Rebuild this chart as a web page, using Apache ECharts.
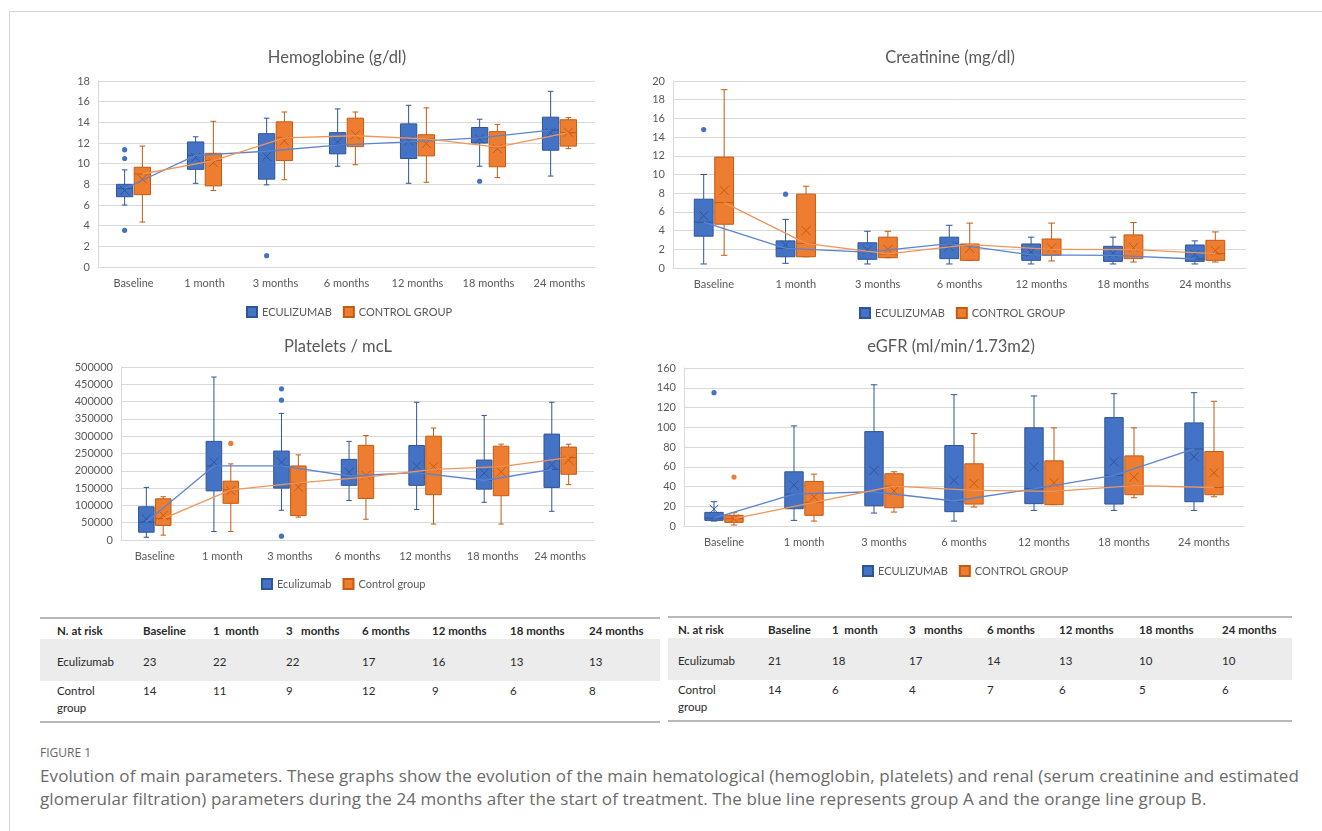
<!DOCTYPE html>
<html>
<head>
<meta charset="utf-8">
<script src="https://cdn.jsdelivr.net/npm/echarts@6/dist/echarts.min.js"></script>
<style>
body { margin: 0; background: #fff; font-family: Lato, sans-serif; }
#page { position: relative; width: 1322px; height: 831px; overflow: hidden; }
#frame { position: absolute; left: 9px; top: 11px; width: 1400px; height: 900px; border: 1px solid #d3d3d3; }
#charts { position: absolute; left: 0; top: 0; width: 1322px; height: 605px; }
.tbl { position: absolute; height: 102px; border-top: 2px solid #b8b8b8; border-bottom: 2px solid #b8b8b8; }
.band { position: absolute; left: 0; right: 0; background: #ececec; }
.cell { position: absolute; font-size: 11.5px; color: #2a2a2a; white-space: pre; line-height: 17px; }
.hd { font-weight: bold; }
#figlabel { position: absolute; left: 40px; top: 744px; font-family: "Open Sans", sans-serif; font-size: 12px; color: #666; }
#caption { position: absolute; left: 40px; top: 764px; font-family: "Open Sans", sans-serif; font-size: 17px; letter-spacing: 0.1px; line-height: 23px; color: #6a6a6a; white-space: nowrap; }
</style>
</head>
<body>
<div id="page">
  <div id="frame"></div>
  <div id="charts"></div>
  <div class="tbl" id="tblLeft" style="left:40px;top:617px;width:620px;"></div>
  <div class="tbl" id="tblRight" style="left:668px;top:616px;width:624px;"></div>
  <div id="figlabel">FIGURE 1</div>
  <div id="caption">Evolution of main parameters. These graphs show the evolution of the main hematological (hemoglobin, platelets) and renal (serum creatinine and estimated<br>glomerular filtration) parameters during the 24 months after the start of treatment. The blue line represents group A and the orange line group B.</div>
</div>
<script>
var months = ['Baseline', '1 month', '3 months', '6 months', '12 months', '18 months', '24 months'];

// boxes are [min, q1, median, q3, max]; outliers are [month index, value]
var hbEcuBox = [[6.0, 6.8, 7.6, 8.0, 9.4], [8.1, 9.45, 10.8, 12.1, 12.6], [7.95, 8.5, 11.2, 12.9, 14.4],
    [9.75, 10.95, 11.8, 13.0, 15.3], [8.1, 10.5, 12.1, 13.85, 15.65], [9.75, 12.0, 12.5, 13.5, 14.3], [8.8, 11.3, 13.25, 14.5, 17.0]];
var hbEcuMean = [7.4, 10.6, 10.7, 12.1, 12.2, 12.4, 13.0];
var hbEcuOut = [[0, 11.35], [0, 10.5], [0, 3.55], [2, 1.1], [5, 8.3]];
var hbCtrlBox = [[4.35, 7.0, 9.0, 9.65, 11.7], [7.4, 7.85, 10.3, 11.0, 14.1], [8.45, 10.3, 12.5, 14.05, 15.0],
    [9.9, 11.65, 12.7, 14.4, 15.0], [8.2, 10.75, 12.4, 12.8, 15.4], [8.65, 9.7, 11.6, 13.1, 13.8], [11.45, 11.7, 13.0, 14.25, 14.45]];
var hbCtrlMean = [8.5, 10.1, 12.2, 12.8, 11.95, 11.45, 13.05];
var hbCtrlOut = [];

var crEcuBox = [[0.43, 3.4, 4.9, 7.36, 10.0], [0.5, 1.2, 2.1, 2.9, 5.2], [0.43, 0.93, 1.7, 2.7, 3.93],
    [0.43, 1.0, 2.6, 3.3, 4.57], [0.43, 0.82, 1.4, 2.57, 3.3], [0.43, 0.71, 1.36, 2.32, 3.3], [0.43, 0.71, 0.96, 2.46, 2.9]];
var crEcuMean = [5.6, 2.46, 1.93, 2.3, 1.7, 1.57, 1.46];
var crEcuOut = [[0, 14.8], [1, 7.9]];
var crCtrlBox = [[1.36, 4.68, 7.0, 11.86, 19.07], [1.2, 1.2, 2.64, 7.9, 8.75], [1.1, 1.1, 1.5, 3.3, 3.93],
    [0.82, 0.82, 2.5, 2.57, 4.8], [0.75, 1.36, 2.0, 3.1, 4.8], [0.64, 1.0, 1.96, 3.54, 4.86], [0.64, 0.82, 1.54, 2.96, 3.86]];
var crCtrlMean = [8.3, 4.0, 2.0, 2.1, 2.14, 2.18, 1.86];
var crCtrlOut = [];

var plEcuBox = [[8000, 22500, 52000, 96000, 152000], [24500, 142000, 214000, 285000, 471000], [86000, 150000, 214000, 257000, 366000],
    [114000, 158000, 185000, 233000, 285000], [88000, 158000, 195000, 273000, 398000], [109000, 147000, 172000, 231000, 360000],
    [83000, 152000, 204000, 306000, 398000]];
var plEcuMean = [61000, 225000, 225000, 196000, 214000, 194000, 218000];
var plEcuOut = [[2, 437000], [2, 404000], [2, 11000]];
var plCtrlBox = [[14000, 42000, 62000, 119000, 125000], [24500, 106000, 145000, 170000, 220000], [66000, 70600, 165000, 214000, 246000],
    [60000, 120000, 182000, 273500, 302000], [46000, 131000, 204000, 300000, 323500], [46000, 128000, 212000, 271000, 277000],
    [160000, 190000, 238000, 268600, 277000]];
var plCtrlMean = [71500, 143000, 153000, 187000, 212000, 197000, 231000];
var plCtrlOut = [[1, 279000]];

var gfEcuBox = [[5, 5.7, 8, 13.8, 24.6], [5.7, 17.5, 32.3, 54.9, 101.4], [13.1, 20.5, 34.7, 95.6, 143],
    [5, 14.5, 25.3, 81.5, 133], [15.8, 22.6, 37.7, 99.4, 131.7], [15.8, 22.2, 51.2, 109.8, 134], [15.8, 24.6, 78, 104.4, 135]];
var gfEcuMean = [17, 41.4, 56.2, 46.1, 60, 65, 70];
var gfEcuOut = [[0, 135]];
var gfCtrlBox = [[1, 3.7, 7.4, 10.8, 13.5], [5, 10.8, 24, 45.1, 52.5], [14.1, 18.5, 40.4, 52.9, 54.9],
    [19.2, 22.2, 36, 63, 93.6], [21.6, 21.6, 35, 66, 99.4], [28.6, 31.7, 40.8, 71, 99.4], [29.6, 31.7, 39, 75.4, 126.3]];
var gfCtrlMean = [7.4, 29.6, 35.4, 43.1, 43.8, 49.5, 53.9];
var gfCtrlOut = [[0, 49.5]];

var riskCols = ['N. at risk', 'Baseline', '1  month', '3   months', '6 months', '12 months', '18 months', '24 months'];
var riskLeftEcu = [23, 22, 22, 17, 16, 13, 13];
var riskLeftCtrl = [14, 11, 9, 12, 9, 6, 8];
var riskRightEcu = [21, 18, 17, 14, 13, 10, 10];
var riskRightCtrl = [14, 6, 4, 7, 6, 5, 6];

var blue = {fill: '#4472C4', edge: '#2F5597', line: '#5B84D0'};
var orange = {fill: '#ED7D31', edge: '#C55A11', line: '#F0955A'};

var panels = [
    {title: 'Hemoglobine (g/dl)', tx: 337, ty: 58, grid: {left: 98, top: 81, width: 497, height: 186}, max: 18, step: 2,
        legend: {left: 246, top: 306}, names: ['ECULIZUMAB', 'CONTROL GROUP'],
        ecu: [hbEcuBox, hbEcuMean, hbEcuOut], ctrl: [hbCtrlBox, hbCtrlMean, hbCtrlOut]},
    {title: 'Creatinine (mg/dl)', tx: 950, ty: 58, grid: {left: 673, top: 81, width: 573, height: 187}, max: 20, step: 2,
        legend: {left: 859, top: 307}, names: ['ECULIZUMAB', 'CONTROL GROUP'],
        ecu: [crEcuBox, crEcuMean, crEcuOut], ctrl: [crCtrlBox, crCtrlMean, crCtrlOut]},
    {title: 'Platelets / mcL', tx: 338, ty: 347, grid: {left: 121, top: 367, width: 473, height: 173}, max: 500000, step: 50000,
        legend: {left: 261, top: 578}, names: ['Eculizumab', 'Control group'],
        ecu: [plEcuBox, plEcuMean, plEcuOut], ctrl: [plCtrlBox, plCtrlMean, plCtrlOut]},
    {title: 'eGFR (ml/min/1.73m2)', tx: 951, ty: 347, grid: {left: 684, top: 368, width: 560, height: 158}, max: 160, step: 20,
        legend: {left: 862, top: 565}, names: ['ECULIZUMAB', 'CONTROL GROUP'],
        ecu: [gfEcuBox, gfEcuMean, gfEcuOut], ctrl: [gfCtrlBox, gfCtrlMean, gfCtrlOut]}
];

function ln(x1, y1, x2, y2, col, w) {
    return {type: 'line', shape: {x1: x1, y1: y1, x2: x2, y2: y2}, style: {stroke: col, lineWidth: w || 1}};
}

function boxRender(side, c) {
    return function (params, api) {
        var i = api.value(0);
        var band = api.size([1, 0])[0];
        var w = band * 0.23;
        var cap = band * 0.08;
        var cx = api.coord([i, 0])[0] + side * band * 0.125;
        var py = function (d) { return api.coord([i, api.value(d)])[1]; };
        var yMin = py(1), yQ1 = py(2), yMed = py(3), yQ3 = py(4), yMax = py(5), yMean = py(6);
        return {type: 'group', children: [
            ln(cx, yMax, cx, yQ3, c.edge),
            ln(cx, yQ1, cx, yMin, c.edge),
            ln(cx - cap / 2, yMax, cx + cap / 2, yMax, c.edge),
            ln(cx - cap / 2, yMin, cx + cap / 2, yMin, c.edge),
            {type: 'rect', shape: {x: cx - w / 2, y: yQ3, width: w, height: yQ1 - yQ3},
                style: {fill: c.fill, stroke: c.edge, lineWidth: 1}},
            ln(cx - w / 2, yMed, cx + w / 2, yMed, c.edge),
            ln(cx - 4.5, yMean - 4.5, cx + 4.5, yMean + 4.5, c.edge),
            ln(cx - 4.5, yMean + 4.5, cx + 4.5, yMean - 4.5, c.edge)
        ]};
    };
}

function segRender(side, c) {
    return function (params, api) {
        var i = api.value(0);
        var band = api.size([1, 0])[0];
        var dx = side * band * 0.125;
        var p0 = api.coord([i, api.value(1)]);
        var p1 = api.coord([i + 1, api.value(2)]);
        return ln(p0[0] + dx, p0[1], p1[0] + dx, p1[1], c.line, 1.3);
    };
}

function dotRender(side, c) {
    return function (params, api) {
        var band = api.size([1, 0])[0];
        var p = api.coord([api.value(0), api.value(1)]);
        return {type: 'circle', shape: {cx: p[0] + side * band * 0.125, cy: p[1], r: 2.6}, style: {fill: c.fill}};
    };
}

var option = {
    animation: false,
    textStyle: {fontFamily: 'Lato'},
    grid: [], xAxis: [], yAxis: [], legend: [], series: [], graphic: []
};

panels.forEach(function (p, k) {
    option.grid.push(p.grid);
    option.xAxis.push({
        type: 'category', gridIndex: k, data: months,
        axisTick: {show: false},
        axisLine: {lineStyle: {color: '#d9d9d9'}},
        axisLabel: {color: '#595959', fontSize: 11, margin: 11}
    });
    option.yAxis.push({
        type: 'value', gridIndex: k, min: 0, max: p.max, interval: p.step,
        axisLine: {show: true, lineStyle: {color: '#d9d9d9'}},
        axisTick: {show: false},
        splitLine: {lineStyle: {color: '#d9d9d9'}},
        axisLabel: {color: '#595959', fontSize: 11, margin: 8, formatter: function (v) { return String(v); }}
    });
    option.legend.push({
        left: p.legend.left, top: p.legend.top, padding: 0, itemWidth: 10, itemHeight: 10, itemGap: 11,
        icon: 'rect', selectedMode: false, data: p.names,
        textStyle: {color: '#595959', fontSize: 11}
    });
    option.graphic.push({
        type: 'text', x: p.tx, y: p.ty,
        style: {text: p.title, fill: '#595959', font: '16.5px Lato', align: 'center', verticalAlign: 'middle',
            textAlign: 'center', textVerticalAlign: 'middle'}
    });
    [[p.ecu, -1, blue, p.names[0]], [p.ctrl, 1, orange, p.names[1]]].forEach(function (g) {
        var box = g[0][0], mean = g[0][1], out = g[0][2], side = g[1], c = g[2];
        var boxData = box.map(function (b, i) { return [i].concat(b, [mean[i]]); });
        var segData = [];
        for (var i = 0; i < box.length - 1; i++) {
            segData.push([i, box[i][2], box[i + 1][2]]);
        }
        option.series.push({
            name: g[3], type: 'custom', xAxisIndex: k, yAxisIndex: k, z: 2,
            itemStyle: {color: c.fill, borderColor: c.edge, borderWidth: 1},
            renderItem: boxRender(side, c), data: boxData
        });
        option.series.push({
            name: g[3] + ' line', type: 'custom', xAxisIndex: k, yAxisIndex: k, z: 5,
            renderItem: segRender(side, c), data: segData
        });
        option.series.push({
            name: g[3] + ' outliers', type: 'custom', xAxisIndex: k, yAxisIndex: k, z: 4,
            renderItem: dotRender(side, c), data: out
        });
    });
});

var chart = echarts.init(document.getElementById('charts'));
chart.setOption(option);

// N. at risk tables
function buildTable(el, xs, ecu, ctrl) {
    var band = document.createElement('div');
    band.className = 'band';
    band.style.top = '20px';
    band.style.height = '42px';
    el.appendChild(band);
    function put(text, x, y, bold) {
        var s = document.createElement('div');
        s.className = 'cell' + (bold ? ' hd' : '');
        s.style.left = x + 'px';
        s.style.top = y + 'px';
        s.textContent = text;
        el.appendChild(s);
    }
    riskCols.forEach(function (t, i) { put(t, xs[i], 3, true); });
    put('Eculizumab', xs[0], 34);
    put('Control\ngroup', xs[0], 63);
    ecu.forEach(function (v, i) { put(String(v), xs[i + 1], 34); });
    ctrl.forEach(function (v, i) { put(String(v), xs[i + 1], 63); });
}
buildTable(document.getElementById('tblLeft'), [17, 103, 173, 246, 322, 392, 470, 549], riskLeftEcu, riskLeftCtrl);
buildTable(document.getElementById('tblRight'), [10, 100, 164, 241, 319, 391, 471, 554], riskRightEcu, riskRightCtrl);
</script>
</body>
</html>
